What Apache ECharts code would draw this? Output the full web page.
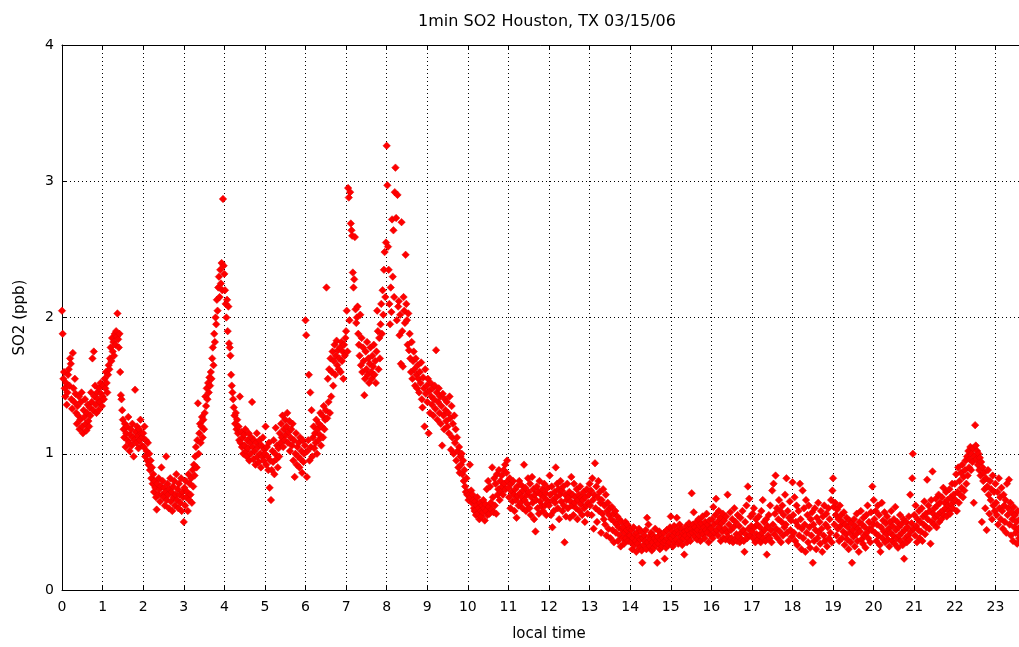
<!DOCTYPE html>
<html>
<head>
<meta charset="utf-8">
<script src="https://cdn.jsdelivr.net/npm/echarts@6/dist/echarts.min.js"></script>
<style>
html,body{margin:0;padding:0;background:#fff;}
#chart{width:1019px;height:647px;}
</style>
</head>
<body>
<div id="chart"></div>
<script>
// 1-minute SO2 values (ppb), one array per local hour
const hour00 = [2.05,1.88,1.55,1.60,1.48,1.42,1.52,1.36,1.45,1.58, 1.62,1.50,1.70,1.66,1.40,1.33,1.74,1.48,1.38,1.55, 1.44,1.30,1.22,1.35,1.28,1.42,1.18,1.25,1.38,1.45, 1.20,1.15,1.32,1.27,1.40,1.22,1.17,1.30,1.36,1.24, 1.20,1.34,1.28,1.45,1.38,1.70,1.32,1.75,1.42,1.50, 1.36,1.30,1.45,1.40,1.32,1.48,1.38,1.52,1.44,1.35];
const hour01 = [1.42,1.50,1.40,1.55,1.48,1.60,1.52,1.45,1.58,1.65, 1.62,1.70,1.78,1.68,1.85,1.75,1.82,1.72,1.88,1.80, 1.90,1.86,2.03,1.84,1.78,1.88,1.60,1.43,1.40,1.32, 1.25,1.18,1.12,1.22,1.05,1.15,1.20,1.10,1.27,1.08, 1.02,1.14,1.18,1.06,1.22,1.12,0.98,1.10,1.47,1.16, 1.08,1.20,1.13,1.04,1.18,1.10,1.25,1.15,1.06,1.12];
const hour02 = [1.15,1.05,1.20,0.98,1.10,1.02,0.95,1.08,0.92,1.00, 0.88,0.95,0.82,0.90,0.78,0.85,0.72,0.80,0.75,0.68, 0.59,0.78,0.70,0.82,0.74,0.65,0.76,0.90,0.70,0.80, 0.68,0.75,0.62,0.72,0.98,0.66,0.78,0.70,0.60,0.74, 0.82,0.65,0.72,0.58,0.76,0.68,0.80,0.62,0.70,0.85, 0.66,0.74,0.60,0.78,0.70,0.64,0.82,0.58,0.72,0.68];
const hour03 = [0.50,0.75,0.62,0.80,0.68,0.72,0.58,0.85,0.66,0.78, 0.70,0.82,0.64,0.88,0.76,0.92,0.84,0.98,1.05,0.90, 1.10,1.37,1.00,1.15,1.22,1.08,1.20,1.27,1.12,1.25, 1.18,1.30,1.42,1.35,1.48,1.40,1.52,1.45,1.56,1.50, 1.60,1.55,1.70,1.78,1.65,1.88,1.82,2.00,1.95,2.13, 2.05,2.22,2.30,2.15,2.35,2.25,2.40,2.20,2.87,2.38];
const hour04 = [2.32,2.20,2.10,2.00,2.13,1.90,2.08,1.81,1.78,1.72, 1.58,1.50,1.45,1.40,1.34,1.28,1.22,1.30,1.18,1.25, 1.15,1.20,1.10,1.42,1.08,1.16,1.05,1.12,1.00,1.14, 1.06,1.18,1.02,0.98,1.10,1.04,1.15,0.95,1.08,1.00, 1.12,1.38,1.05,0.96,1.10,1.02,0.92,1.08,1.15,0.98, 1.05,0.94,1.10,1.00,0.90,1.06,0.98,1.12,0.95,1.03];
const hour05 = [1.00,1.20,0.92,1.05,0.98,0.88,1.08,0.75,0.95,0.66, 0.88,1.02,0.94,1.10,0.85,1.00,1.19,0.96,1.06,0.90, 1.04,0.98,1.15,1.08,1.22,1.12,1.28,1.05,1.18,1.10, 1.25,1.14,1.20,1.30,1.08,1.16,1.24,1.02,1.12,1.18, 1.06,1.22,0.95,1.10,0.83,1.00,1.15,0.92,1.05,0.98, 1.08,0.90,1.12,0.96,1.02,0.86,1.10,0.94,1.00,1.06];
const hour06 = [1.98,1.87,0.83,1.02,1.10,1.58,0.95,1.45,1.05,1.32, 0.98,1.12,1.20,1.04,1.15,1.08,1.25,1.00,1.18,1.10, 1.22,1.14,1.30,1.06,1.20,1.28,1.12,1.35,1.18,1.25, 1.32,2.22,1.26,1.55,1.38,1.62,1.30,1.70,1.42,1.60, 1.75,1.50,1.68,1.80,1.58,1.72,1.83,1.65,1.76,1.62, 1.70,1.78,1.60,1.82,1.68,1.75,1.55,1.80,1.72,1.85];
const hour07 = [1.90,2.05,1.75,2.95,2.88,1.98,2.92,2.69,2.64,2.60, 2.33,2.22,2.28,2.59,2.06,1.96,2.00,2.08,1.88,1.80, 1.72,2.02,1.65,1.85,1.60,1.78,1.68,1.43,1.55,1.75, 1.62,1.82,1.58,1.70,1.52,1.66,1.78,1.60,1.55,1.72, 1.64,1.80,1.58,1.68,1.52,1.75,2.05,1.90,1.62,1.85, 1.70,1.95,2.10,1.88,2.20,2.02,2.35,2.48,2.15,2.55];
const hour08 = [3.26,2.97,2.52,2.35,2.10,1.95,2.22,2.04,2.72,2.30, 2.64,2.15,2.92,3.10,2.73,1.98,2.90,2.08,2.12,1.87, 2.02,1.66,2.70,1.90,1.64,2.15,2.05,1.96,2.46,2.10, 1.98,1.80,2.03,1.76,1.88,1.70,1.60,1.82,1.55,1.68, 1.75,1.62,1.50,1.70,1.58,1.48,1.65,1.55,1.45,1.60, 1.52,1.67,1.40,1.34,1.56,1.48,1.20,1.62,1.44,1.50];
const hour09 = [1.38,1.55,1.15,1.46,1.30,1.52,1.42,1.36,1.48,1.28, 1.40,1.50,1.33,1.76,1.45,1.25,1.38,1.48,1.30,1.42, 1.22,1.35,1.06,1.44,1.28,1.18,1.40,1.32,1.24,1.38, 1.20,1.30,1.15,1.42,1.26,1.03,1.35,1.12,1.22,1.00, 1.28,1.08,1.18,0.95,1.12,1.02,0.90,1.05,0.86,0.98, 0.92,1.00,0.85,0.95,0.80,0.88,0.76,0.72,0.82,0.70];
const hour10 = [0.72,0.66,0.70,0.92,0.68,0.73,0.64,0.70,0.66,0.60, 0.58,0.65,0.55,0.62,0.68,0.56,0.60,0.52,0.64,0.58, 0.54,0.62,0.57,0.66,0.60,0.51,0.63,0.58,0.74,0.55, 0.80,0.61,0.56,0.76,0.64,0.59,0.90,0.68,0.57,0.82, 0.62,0.78,0.56,0.85,0.70,0.74,0.88,0.66,0.80,0.72, 0.84,0.76,0.70,0.88,0.78,0.92,0.74,0.86,0.95,0.80];
const hour11 = [0.75,0.68,0.82,0.60,0.78,0.72,0.65,0.80,0.70,0.58, 0.74,0.66,0.53,0.76,0.69,0.62,0.80,0.71,0.64,0.77, 0.68,0.60,0.73,0.92,0.66,0.75,0.58,0.70,0.63,0.82, 0.72,0.60,0.78,0.55,0.68,0.83,0.64,0.74,0.52,0.70, 0.43,0.66,0.76,0.60,0.72,0.56,0.80,0.65,0.70,0.62, 0.74,0.58,0.68,0.78,0.62,0.71,0.55,0.66,0.75,0.64];
const hour12 = [0.62,0.84,0.70,0.55,0.76,0.46,0.66,0.58,0.72,0.64, 0.90,0.68,0.78,0.60,0.74,0.52,0.70,0.80,0.65,0.73, 0.58,0.76,0.62,0.35,0.70,0.54,0.66,0.78,0.60,0.68, 0.72,0.53,0.65,0.83,0.62,0.70,0.55,0.78,0.64,0.68, 0.60,0.74,0.52,0.66,0.70,0.58,0.76,0.63,0.68,0.55, 0.66,0.72,0.60,0.50,0.68,0.62,0.74,0.56,0.64,0.70];
const hour13 = [0.78,0.62,0.73,0.55,0.82,0.66,0.45,0.70,0.93,0.60, 0.76,0.50,0.68,0.80,0.58,0.72,0.64,0.42,0.66,0.56, 0.74,0.52,0.62,0.48,0.70,0.40,0.58,0.64,0.45,0.55, 0.60,0.38,0.52,0.61,0.44,0.56,0.35,0.50,0.58,0.42, 0.48,0.54,0.36,0.46,0.52,0.40,0.32,0.50,0.44,0.38, 0.46,0.34,0.42,0.50,0.38,0.44,0.48,0.36,0.40,0.45];
const hour14 = [0.40,0.35,0.44,0.30,0.38,0.46,0.33,0.41,0.36,0.28, 0.42,0.34,0.39,0.45,0.31,0.37,0.43,0.29,0.20,0.38, 0.33,0.40,0.36,0.44,0.30,0.53,0.35,0.48,0.39,0.32, 0.37,0.42,0.29,0.35,0.40,0.31,0.38,0.45,0.33,0.36, 0.20,0.39,0.34,0.43,0.30,0.37,0.41,0.32,0.38,0.35, 0.42,0.23,0.36,0.31,0.44,0.38,0.33,0.40,0.35,0.46];
const hour15 = [0.54,0.38,0.43,0.32,0.40,0.47,0.35,0.42,0.37,0.53, 0.44,0.34,0.41,0.48,0.36,0.39,0.45,0.33,0.42,0.38, 0.26,0.43,0.40,0.47,0.35,0.44,0.38,0.49,0.41,0.36, 0.45,0.71,0.42,0.48,0.57,0.39,0.46,0.43,0.50,0.37, 0.44,0.52,0.40,0.47,0.36,0.49,0.43,0.54,0.41,0.46, 0.38,0.50,0.44,0.56,0.42,0.48,0.35,0.51,0.45,0.40];
const hour16 = [0.45,0.52,0.38,0.61,0.48,0.42,0.55,0.67,0.44,0.50, 0.40,0.58,0.46,0.53,0.36,0.49,0.43,0.56,0.38,0.51, 0.45,0.37,0.54,0.42,0.70,0.39,0.48,0.36,0.57,0.44, 0.38,0.52,0.35,0.46,0.60,0.37,0.50,0.41,0.36,0.55, 0.39,0.47,0.35,0.53,0.42,0.37,0.58,0.44,0.36,0.28, 0.50,0.41,0.62,0.38,0.76,0.45,0.67,0.40,0.54,0.47];
const hour17 = [0.43,0.56,0.38,0.60,0.46,0.35,0.52,0.41,0.48,0.37, 0.54,0.40,0.46,0.35,0.58,0.42,0.66,0.38,0.50,0.44, 0.36,0.52,0.26,0.47,0.40,0.55,0.38,0.62,0.44,0.35, 0.73,0.48,0.78,0.41,0.56,0.84,0.45,0.60,0.38,0.52, 0.66,0.43,0.58,0.35,0.50,0.62,0.40,0.55,0.46,0.70, 0.48,0.82,0.42,0.58,0.36,0.53,0.65,0.44,0.51,0.39];
const hour18 = [0.79,0.55,0.42,0.68,0.36,0.50,0.62,0.33,0.47,0.58, 0.40,0.78,0.52,0.30,0.45,0.73,0.38,0.60,0.48,0.28, 0.66,0.42,0.55,0.35,0.62,0.46,0.31,0.52,0.40,0.57, 0.20,0.48,0.36,0.60,0.44,0.30,0.53,0.38,0.64,0.42, 0.50,0.34,0.58,0.45,0.28,0.54,0.40,0.62,0.36,0.48, 0.56,0.32,0.46,0.60,0.38,0.52,0.42,0.66,0.35,0.73];
const hour19 = [0.82,0.61,0.48,0.64,0.55,0.40,0.59,0.45,0.52,0.36, 0.62,0.47,0.55,0.38,0.50,0.43,0.57,0.33,0.48,0.41, 0.53,0.37,0.46,0.30,0.51,0.42,0.35,0.49,0.20,0.44, 0.39,0.52,0.32,0.47,0.41,0.56,0.36,0.45,0.28,0.50, 0.43,0.58,0.37,0.48,0.34,0.53,0.40,0.46,0.31,0.55, 0.42,0.62,0.38,0.50,0.45,0.35,0.57,0.44,0.76,0.48];
const hour20 = [0.66,0.52,0.42,0.58,0.36,0.48,0.62,0.40,0.55,0.33, 0.28,0.46,0.64,0.38,0.51,0.43,0.57,0.35,0.49,0.41, 0.54,0.37,0.45,0.32,0.50,0.42,0.58,0.36,0.47,0.40, 0.52,0.34,0.61,0.44,0.38,0.50,0.31,0.46,0.40,0.55, 0.36,0.48,0.42,0.33,0.52,0.23,0.44,0.38,0.50,0.35, 0.46,0.40,0.54,0.37,0.70,0.43,0.49,0.82,1.00,0.45];
const hour21 = [0.55,0.40,0.62,0.47,0.35,0.52,0.44,0.58,0.38,0.50, 0.43,0.60,0.36,0.54,0.48,0.65,0.41,0.56,0.46,0.81, 0.52,0.62,0.45,0.58,0.34,0.66,0.50,0.87,0.56,0.48, 0.60,0.53,0.67,0.46,0.62,0.55,0.70,0.50,0.64,0.57, 0.52,0.68,0.58,0.75,0.55,0.64,0.60,0.72,0.54,0.66, 0.62,0.58,0.74,0.56,0.68,0.63,0.78,0.60,0.70,0.65];
const hour22 = [0.78,0.66,0.85,0.58,0.72,0.90,0.64,0.80,0.70,0.86, 0.75,0.92,0.68,0.83,0.73,0.88,0.95,0.78,0.98,0.84, 1.02,0.90,0.96,1.05,0.88,1.00,0.94,1.04,0.64,0.98, 1.21,1.06,0.96,1.02,0.92,1.00,0.88,0.97,0.84,0.94, 0.50,0.90,0.80,0.86,0.74,0.60,0.82,0.44,0.76,0.88, 0.70,0.56,0.80,0.66,0.74,0.52,0.84,0.62,0.72,0.58];
const hour23 = [0.78,0.64,0.55,0.72,0.48,0.82,0.60,0.68,0.52,0.75, 0.58,0.45,0.70,0.62,0.50,0.66,0.42,0.78,0.55,0.60, 0.81,0.48,0.64,0.40,0.57,0.52,0.36,0.61,0.46,0.55, 0.42,0.50,0.34,0.58,0.45,0.38,0.52,0.40,0.47,0.36, 0.44,0.50,0.38,0.55,0.42,0.48,0.35,0.52,0.40,0.46, 0.38,0.50,0.44,0.36,0.48,0.42,0.54,0.40,0.46,0.39];

const hourly = [hour00,hour01,hour02,hour03,hour04,hour05,hour06,hour07,hour08,hour09,hour10,hour11,
                hour12,hour13,hour14,hour15,hour16,hour17,hour18,hour19,hour20,hour21,hour22,hour23];
const titleText = '1min SO2 Houston, TX 03/15/06';
const xName = 'local time';
const yName = 'SO2 (ppb)';

const points = [];
hourly.forEach(function (arr, h) {
  arr.forEach(function (v, m) { points.push([h + m / 60, v]); });
});

const FONT = '"DejaVu Sans", Verdana, sans-serif';
const chart = echarts.init(document.getElementById('chart'), null, {renderer: 'canvas'});
chart.setOption({
  animation: false,
  backgroundColor: '#fff',
  title: {
    text: titleText,
    left: 542, top: 9, textAlign: 'center',
    textStyle: {fontFamily: FONT, fontSize: 16, fontWeight: 'normal', color: '#000'}
  },
  grid: {left: 62, top: 45, width: 974, height: 545, containLabel: false, outerBoundsMode: 'none'},
  xAxis: [{
    type: 'value', min: 0, max: 24, interval: 1,
    name: xName, nameLocation: 'middle', nameGap: 37,
    nameTextStyle: {fontFamily: FONT, fontSize: 15, color: '#000'},
    axisLine: {show: true, lineStyle: {color: '#000', width: 1}},
    axisTick: {show: true, inside: true, length: 5, lineStyle: {color: '#000'}},
    axisLabel: {color: '#000', fontFamily: FONT, fontSize: 14, margin: 10},
    splitLine: {show: true, lineStyle: {color: '#000', width: 1, type: [1, 3]}}
  }, {
    type: 'value', min: 0, max: 24, interval: 1, position: 'top',
    axisLine: {show: true, onZero: false, lineStyle: {color: '#000', width: 1}},
    axisTick: {show: true, inside: true, length: 5, lineStyle: {color: '#000'}},
    axisLabel: {show: false},
    splitLine: {show: false}
  }],
  yAxis: {
    type: 'value', min: 0, max: 4, interval: 1,
    name: yName, nameLocation: 'middle', nameGap: 34, nameRotate: 90,
    nameTextStyle: {fontFamily: FONT, fontSize: 15, color: '#000'},
    axisLine: {show: true, lineStyle: {color: '#000', width: 1}},
    axisTick: {show: true, inside: true, length: 5, lineStyle: {color: '#000'}},
    axisLabel: {color: '#000', fontFamily: FONT, fontSize: 14, margin: 8},
    splitLine: {show: true, lineStyle: {color: '#000', width: 1, type: [1, 3]}}
  },
  series: [{
    type: 'scatter',
    xAxisIndex: 0,
    data: points,
    symbol: 'diamond',
    symbolSize: 7.5,
    itemStyle: {color: '#ff0000', borderColor: '#e00000', borderWidth: 0.5, opacity: 1},
    large: false
  }]
});
</script>
</body>
</html>
